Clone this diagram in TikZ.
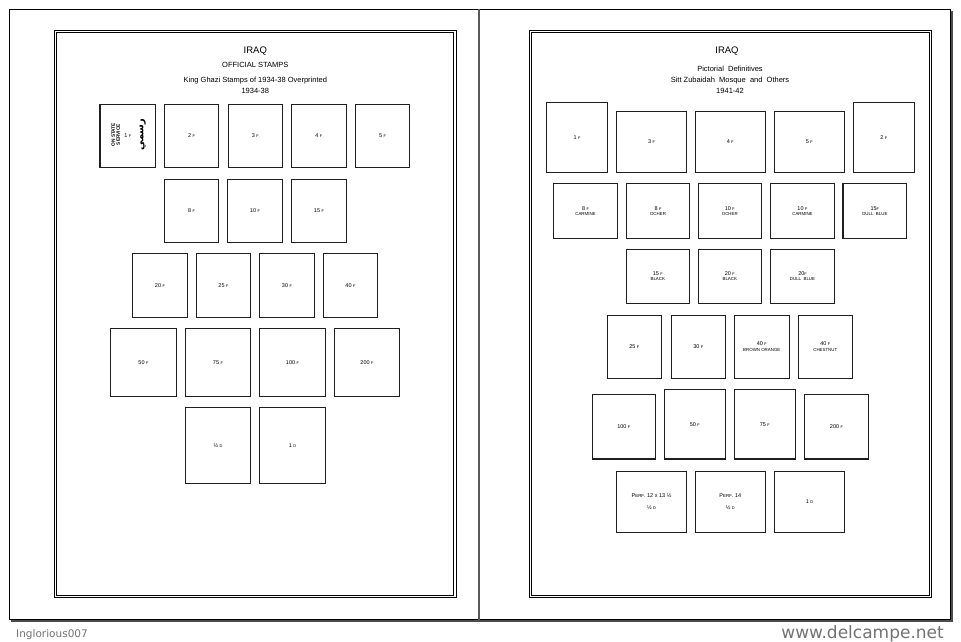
\documentclass[tikz,border=0pt]{standalone}
\usepackage{fontspec}
\setmainfont{Liberation Sans}
\newfontfamily\dejavu{DejaVu Sans}
\newfontfamily\arabicfont[Script=Arabic]{DejaVu Sans}
\TeXXeTstate=1
\newcommand\Fs{{\fontsize{3.9}{4}\selectfont F}}
\newcommand\Ds{{\fontsize{3.9}{4}\selectfont D}}
\newcommand\colr[1]{{\fontsize{4.4}{5}\selectfont #1}}
\newcommand\stampat[6]{%
  \pgfmathsetmacro\sw{#4-#2}\pgfmathsetmacro\sh{#5-#3}%
  \node[stampbox, minimum width=\sw pt, minimum height=\sh pt] (#1) at ({(#2+#4)/2},{(#3+#5)/2}) {#6};}
\tikzset{
  stampbox/.style={draw=black!88, line width=1.1pt, fill=white, inner sep=0pt,
    font=\fontsize{5.5}{5.5}\selectfont, text=black, align=center},
  title/.style={font=\fontsize{9.5}{10}\selectfont, text=black, anchor=base},
  subtitle/.style={font=\fontsize{7.5}{8}\selectfont, text=black, anchor=base},
  frameline/.style={draw=black, line width=0.9pt},
}
\begin{document}
\begin{tikzpicture}[x=1pt,y=-1pt]
\useasboundingbox (0,0) rectangle (961,642);
\fill[white] (0,0) rectangle (961,642);
% outer frame
\draw[black!70, line width=2.2pt] (11,620.5) -- (951.5,620.5) -- (951.5,11);
\draw[black, line width=1.2pt] (9.5,9.5) rectangle (950.5,619.5);
\draw[black!65, line width=2pt] (479,9.5) -- (479,619.5);
% inner double frames
\draw[frameline] (54.3,30.3) rectangle (456,597.7);
\draw[frameline] (56.7,32.7) rectangle (453.5,595.3);
\draw[frameline] (529.3,30.3) rectangle (931.7,597.7);
\draw[frameline] (531.7,32.7) rectangle (929.3,595.3);

% ===== left page headers
\node[title] (lt1) at (255.3,54) {IRAQ};
\node[subtitle] (lt2) at (255.3,67.7) {OFFICIAL STAMPS};
\node[subtitle] (lt3) at (255.3,82) {King Ghazi Stamps of 1934-38 Overprinted};
\node[subtitle] (lt4) at (255.3,93.7) {1934-38};

% row 1
\stampat{L1}{100}{104.3}{155.7}{167.3}{1 \Fs}
\node[font=\bfseries\fontsize{4.8}{4.8}\selectfont, rotate=90, align=center, inner sep=0pt] (ovl) at (115.7,134.7) {ON STATE\\SERVICE};
\node[font=\arabicfont\bfseries\fontsize{10}{10}\selectfont, rotate=90, inner sep=0pt] (ovr) at (142.7,134.7) {\beginR رسمي\endR};
\stampat{L2}{164.3}{104.3}{218.7}{167.3}{2 \Fs}
\stampat{L3}{228.3}{104.3}{282.3}{167.3}{3 \Fs}
\stampat{L4}{291.3}{104.3}{346.3}{167.3}{4 \Fs}
\stampat{L5}{355.3}{104.3}{409.7}{167.3}{5 \Fs}
% row 2
\stampat{L6}{164.3}{179.3}{218.7}{242.3}{8 \Fs}
\stampat{L7}{227.3}{179.3}{282.7}{242.3}{10 \Fs}
\stampat{L8}{291.3}{179.3}{346.7}{242.3}{15 \Fs}
% row 3
\stampat{L9}{132.3}{253.3}{187.7}{317.3}{20 \Fs}
\stampat{L10}{196.3}{253.3}{250.7}{317.3}{25 \Fs}
\stampat{L11}{259.3}{253.3}{314.7}{317.3}{30 \Fs}
\stampat{L12}{323.3}{253.3}{377.7}{317.3}{40 \Fs}
% row 4
\stampat{L13}{110.3}{328.3}{176.7}{396.3}{50 \Fs}
\stampat{L14}{185.3}{328.3}{250.7}{396.3}{75 \Fs}
\stampat{L15}{259.3}{328.3}{325.7}{396.3}{100 \Fs}
\stampat{L16}{334.3}{328.3}{399.7}{396.3}{200 \Fs}
% row 5
\stampat{L17}{185.3}{407.3}{250.7}{483.7}{½ \Ds}
\stampat{L18}{259.3}{407.3}{325.7}{483.7}{1 \Ds}

% ===== right page headers
\node[title] (rt1) at (727,54) {IRAQ};
\node[subtitle] (rt2) at (730,71.7) {Pictorial\ \ Definitives};
\node[subtitle] (rt3) at (730,82.4) {Sitt Zubaidah\ \ Mosque\ \ and\ \ Others};
\node[subtitle] (rt4) at (730,93) {1941-42};

% row 1
\stampat{R1}{546.3}{102.3}{607.7}{172.3}{1 \Fs}
\stampat{R2}{616.3}{111.3}{686.7}{172.3}{3 \Fs}
\stampat{R3}{695.3}{111.3}{765.3}{172.3}{4 \Fs}
\stampat{R4}{774.3}{111.3}{844.3}{172.3}{5 \Fs}
\stampat{R5}{853.3}{102.3}{914.3}{172.3}{2 \Fs}
% row 2
\stampat{R6}{553.3}{183.3}{617.7}{238.7}{8 \Fs\\\colr{CARMINE}}
\stampat{R7}{626.3}{183.3}{689.7}{238.7}{8 \Fs\\\colr{OCHER}}
\stampat{R8}{698.3}{183.3}{761.3}{238.7}{10 \Fs\\\colr{OCHER}}
\stampat{R9}{770.3}{183.3}{834.7}{238.7}{10 \Fs\\\colr{CARMINE}}
\stampat{R10}{843}{183.3}{906.7}{238.7}{15\Fs\\\colr{DULL\ \ BLUE}}
% row 3
\stampat{R11}{626.3}{249.3}{689.3}{303.3}{15 \Fs\\\colr{BLACK}}
\stampat{R12}{698.3}{249.3}{761.3}{303.3}{20 \Fs\\\colr{BLACK}}
\stampat{R13}{770.3}{249.3}{834.7}{303.3}{20\Fs\\\colr{DULL\ \ BLUE}}
% row 4
\stampat{R14}{607.3}{315.3}{661.3}{378.3}{25 \Fs}
\stampat{R15}{671.3}{315.3}{725.3}{378.3}{30 \Fs}
\stampat{R16}{734.3}{315.3}{789.3}{378.3}{40 \Fs\\\colr{BROWN ORANGE}}
\stampat{R17}{798.3}{315.3}{852.3}{378.3}{40 \Fs\\\colr{CHESTNUT}}
% row 5
\stampat{R18}{592.3}{394.3}{655.3}{459}{100 \Fs}
\stampat{R19}{664.3}{389.3}{725.3}{459}{50 \Fs}
\stampat{R20}{734.3}{389.3}{795.3}{459}{75 \Fs}
\stampat{R21}{804.3}{394.3}{868.7}{459}{200 \Fs}
% row 6
\stampat{R22}{616.3}{471.3}{686.7}{532.3}{P\colr{ERF}. 12 x 13 ½\\[6pt]½ \Ds}
\stampat{R23}{695.3}{471.3}{765.3}{532.3}{P\colr{ERF}. 14\\[6pt]½ \Ds}
\stampat{R24}{774.3}{471.3}{844.7}{532.3}{1 \Ds}

% watermarks
\node[font=\dejavu\fontsize{10.5}{11}\selectfont, text=black!55, anchor=base west, inner sep=0pt] (wm1) at (16,637) {Inglorious007};
\node[font=\dejavu\fontsize{17}{18}\selectfont, text=black!55, anchor=base east, inner sep=0pt] (wm2) at (944,638) {www.delcampe.net};
\end{tikzpicture}
\end{document}
